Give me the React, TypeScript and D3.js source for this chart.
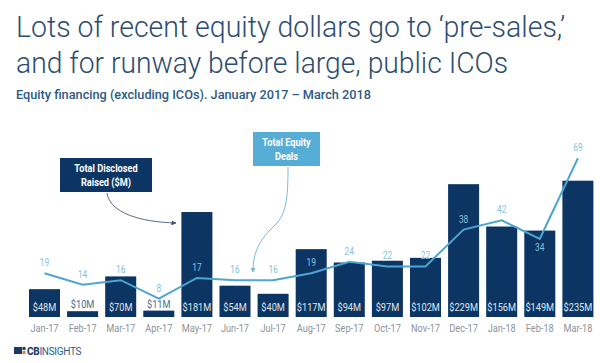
import React from 'react';
import * as d3 from 'd3';

const months = ['Jan-17', 'Feb-17', 'Mar-17', 'Apr-17', 'May-17', 'Jun-17', 'Jul-17', 'Aug-17', 'Sep-17', 'Oct-17', 'Nov-17', 'Dec-17', 'Jan-18', 'Feb-18', 'Mar-18'];
const raised = [48, 10, 70, 11, 181, 54, 40, 117, 94, 97, 102, 229, 156, 149, 235];
const deals = [19, 14, 16, 8, 17, 16, 16, 19, 24, 22, 22, 38, 42, 34, 69];
const dealLabelBelow = ['Feb-18'];

const W = 600;
const H = 363;
const NAVY = '#0c3563';
const LINE = '#4da6d1';
const FONT = 'Roboto, sans-serif';

const App: React.FC = () => {
  const baseline = 317;
  const x = d3.scaleBand<string>()
    .domain(months)
    .range([25.45, 596.95])
    .paddingInner(0.186)
    .paddingOuter(0.093);
  const yBar = d3.scaleLinear().domain([0, 250]).range([baseline, baseline - 250 * 0.58]);
  const yLine = d3.scaleLinear().domain([0, 70]).range([baseline, baseline - 70 * 2.3]);
  const bw = x.bandwidth();
  const cx = (m: string) => (x(m) ?? 0) + bw / 2;

  const line = d3.line<number>()
    .x((_, i) => cx(months[i]))
    .y(d => yLine(d));

  // narrow the glyphs a bit, the original uses a condensed face
  const cond = (px: number, py: number, s = 0.8) => `translate(${px},${py}) scale(${s},1)`;

  return (
    <svg width={W} height={H} style={{ position: 'absolute', left: 0, top: 0, background: '#fff' }} fontFamily={FONT}>
      <rect width={W} height={H} fill="#fff" />

      {/* title */}
      <text x={16} y={37} fontSize={29} fontWeight={300} fill="#2d4d70" textLength={549} lengthAdjust="spacingAndGlyphs">
        Lots of recent equity dollars go to ‘pre-sales,’
      </text>
      <text x={16} y={73} fontSize={29} fontWeight={300} fill="#2d4d70" textLength={492} lengthAdjust="spacingAndGlyphs">
        and for runway before large, public ICOs
      </text>
      <text x={16} y={99} fontSize={13} fontWeight={500} fill="#2c5a86" textLength={355} lengthAdjust="spacingAndGlyphs">
        Equity financing (excluding ICOs). January 2017 – March 2018
      </text>

      {/* bars */}
      {months.map((m, i) => (
        <rect key={m} x={x(m)} y={yBar(raised[i])} width={bw} height={baseline - yBar(raised[i])} fill={NAVY} />
      ))}
      {months.map((m, i) => {
        const small = baseline - yBar(raised[i]) < 15;
        return (
          <text key={m} transform={cond(cx(m), small ? yBar(raised[i]) - 3 : 311)} textAnchor="middle" fontSize={11.5}
            fill={small ? '#4a6a90' : '#dce6f0'}>
            ${raised[i]}M
          </text>
        );
      })}

      {/* x axis labels */}
      {months.map(m => (
        <text key={m} transform={cond(cx(m), 332)} textAnchor="middle" fontSize={11.5} fill="#8d939b">
          {m}
        </text>
      ))}

      {/* deals line */}
      <path d={line(deals) ?? ''} fill="none" stroke={LINE} strokeWidth={2} />
      {months.map((m, i) => {
        const below = dealLabelBelow.includes(m);
        return (
          <text key={m} transform={cond(cx(m), yLine(deals[i]) + (below ? 12 : -7))} textAnchor="middle" fontSize={10.5} fill="#86c1dd">
            {deals[i]}
          </text>
        );
      })}

      {/* callout: raised */}
      <defs>
        <marker id="arrDark" viewBox="0 0 10 10" refX={9} refY={5} markerWidth={5} markerHeight={5} orient="auto">
          <path d="M0,0 L10,5 L0,10 z" fill="#3c4f70" />
        </marker>
        <marker id="arrLight" viewBox="0 0 10 10" refX={9} refY={5} markerWidth={5} markerHeight={5} orient="auto">
          <path d="M0,0 L10,5 L0,10 z" fill="#6fb6d6" />
        </marker>
      </defs>
      <rect x={60} y={158} width={92} height={34} fill={NAVY} />
      <text transform={cond(106, 172)} textAnchor="middle" fontSize={11.5} fontWeight={700} fill="#fff">Total Disclosed</text>
      <text transform={cond(106, 186)} textAnchor="middle" fontSize={11.5} fontWeight={700} fill="#fff">Raised ($M)</text>
      <path d="M107,193 C110,213 140,222 176,223" fill="none" stroke="#5a6a85" strokeWidth={1} markerEnd="url(#arrDark)" />

      {/* callout: deals */}
      <rect x={253} y={132} width={67} height={34} fill="#56add5" />
      <text transform={cond(286.5, 146)} textAnchor="middle" fontSize={11.5} fontWeight={700} fill="#fff">Total Equity</text>
      <text transform={cond(286.5, 160)} textAnchor="middle" fontSize={11.5} fontWeight={700} fill="#fff">Deals</text>
      <path d="M288,167 C288,200 286,213 276,224 C259,240 253,252 253,272" fill="none" stroke="#7bbbd8" strokeWidth={1} markerEnd="url(#arrLight)" />

      {/* logo */}
      <rect x={14} y={347} width={8} height={7} fill="#1d3a66" />
      <rect x={22.5} y={347} width={3} height={3} fill="#1d3a66" />
      <rect x={22.5} y={351} width={3} height={3} fill="#f0792b" />
      <text x={27} y={354.5} fontSize={10} fill="#1d3a66" letterSpacing={-0.3}>
        <tspan fontWeight={800}>CB</tspan>
        <tspan fontWeight={400} fill="#2e5a8a">INSIGHTS</tspan>
      </text>
    </svg>
  );
};

export default App;
